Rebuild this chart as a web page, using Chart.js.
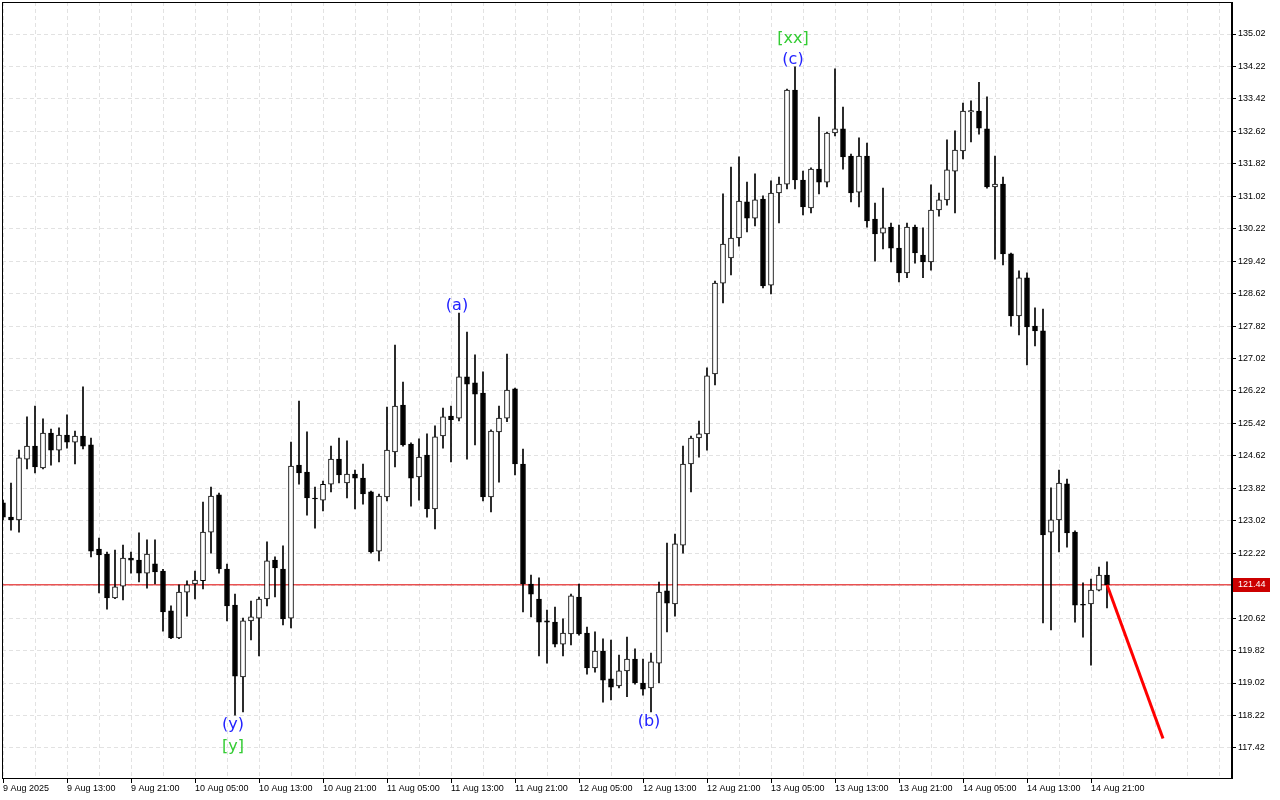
<!DOCTYPE html>
<html>
<head>
<meta charset="utf-8">
<title>Candles</title>
<script src="https://cdn.jsdelivr.net/npm/chart.js@4/dist/chart.umd.min.js"></script>
<style>
  html, body { margin: 0; padding: 0; background: #ffffff; }
  #wrap { width: 1280px; height: 800px; }
</style>
</head>
<body>
<div id="wrap"><canvas id="priceChart" width="1280" height="800"></canvas></div>
<script>
// hourly candles, 9 Aug 05:00 .. 14 Aug 23:00
const opens = [
  123.46, 123.11, 123.04, 124.54, 124.86, 124.32, 125.18, 124.76, 125.13, 124.96,
  125.11, 124.89, 122.32, 122.20, 121.12, 121.41, 122.10, 122.05, 121.73, 121.96,
  121.78, 120.80, 120.13, 121.26, 121.46, 121.54, 122.74, 123.66, 121.83, 120.94,
  119.17, 120.55, 120.62, 121.09, 122.05, 121.83, 120.62, 124.39, 124.22, 123.58,
  123.53, 123.92, 124.54, 123.95, 124.17, 124.07, 123.73, 122.27, 123.61, 124.72,
  125.87, 124.91, 124.10, 124.64, 123.31, 125.11, 125.60, 125.55, 126.57, 126.42,
  126.17, 123.61, 125.21, 125.55, 126.27, 124.42, 121.46, 121.09, 120.55, 120.52,
  119.98, 120.23, 121.14, 120.25, 119.39, 119.81, 119.12, 118.95, 119.32, 119.61,
  119.02, 118.90, 119.51, 121.29, 120.97, 122.42, 124.42, 125.06, 125.16, 126.64,
  128.88, 129.50, 129.99, 130.88, 130.48, 130.95, 128.83, 131.10, 131.32, 133.64,
  131.42, 130.73, 131.69, 131.37, 132.58, 132.68, 132.01, 131.12, 132.01, 130.46,
  130.11, 130.26, 129.74, 129.13, 130.26, 129.57, 129.40, 130.68, 130.93, 131.64,
  132.14, 133.10, 133.12, 132.68, 131.25, 131.32, 129.60, 128.07, 129.01, 127.82,
  127.70, 122.74, 123.04, 123.93, 122.74, 120.96, 120.97, 121.31, 121.68
];
const highs = [
  123.53, 123.95, 124.76, 125.58, 125.85, 125.53, 125.28, 125.31, 125.63, 125.23,
  126.32, 125.06, 122.59, 122.25, 122.30, 122.42, 122.25, 122.72, 122.55, 122.55,
  121.82, 120.92, 121.44, 121.54, 121.78, 123.48, 123.85, 123.70, 121.95, 121.21,
  120.62, 121.04, 121.14, 122.50, 122.13, 122.40, 124.96, 125.97, 125.21, 123.85,
  124.00, 124.86, 125.06, 124.99, 124.27, 124.42, 123.75, 123.68, 125.82, 127.35,
  126.44, 124.94, 125.04, 125.16, 125.36, 125.80, 125.85, 128.14, 127.67, 127.11,
  126.69, 125.26, 125.85, 127.13, 126.29, 124.79, 121.68, 121.61, 120.82, 120.89,
  120.60, 121.21, 121.46, 120.40, 120.28, 120.11, 120.08, 119.71, 120.15, 119.86,
  119.61, 119.76, 121.51, 122.47, 122.69, 124.86, 125.11, 125.48, 126.79, 128.93,
  131.08, 131.74, 131.99, 131.37, 131.57, 131.03, 131.40, 131.49, 133.66, 134.21,
  131.64, 131.72, 132.97, 132.60, 134.16, 133.22, 132.06, 132.46, 132.33, 130.85,
  131.22, 130.36, 130.31, 130.36, 130.31, 130.24, 131.30, 131.10, 132.41, 132.63,
  133.32, 133.37, 133.83, 133.47, 132.01, 131.49, 129.62, 129.18, 129.13, 128.27,
  128.24, 123.83, 124.27, 124.05, 122.77, 121.49, 121.58, 121.88, 122.01
];
const lows = [
  123.04, 122.79, 122.74, 124.30, 124.20, 124.30, 124.39, 124.47, 124.81, 124.42,
  124.79, 122.13, 121.24, 120.84, 121.10, 121.07, 121.73, 121.51, 121.36, 121.46,
  120.30, 120.11, 120.11, 120.67, 121.09, 121.34, 122.22, 121.73, 120.55, 118.23,
  118.31, 120.08, 119.69, 120.92, 121.14, 120.45, 120.38, 123.92, 123.16, 122.84,
  123.26, 123.73, 123.95, 123.58, 123.31, 123.43, 122.22, 122.03, 123.51, 124.35,
  124.86, 123.38, 123.53, 123.11, 122.82, 124.81, 124.47, 125.48, 124.54, 124.89,
  123.51, 123.24, 123.97, 125.46, 124.15, 120.77, 120.65, 119.69, 119.51, 119.91,
  119.69, 119.96, 120.20, 119.24, 119.29, 118.55, 118.60, 118.90, 118.68, 118.99,
  118.72, 118.31, 119.02, 120.28, 120.67, 122.22, 123.73, 124.59, 124.76, 126.37,
  128.39, 129.08, 129.79, 130.14, 130.29, 128.76, 128.61, 130.36, 131.20, 131.20,
  130.56, 130.61, 131.08, 131.25, 132.51, 131.69, 130.88, 130.76, 130.26, 129.42,
  129.72, 129.40, 128.91, 129.01, 129.37, 129.01, 129.20, 130.53, 130.80, 130.61,
  131.94, 132.36, 132.55, 131.22, 129.47, 129.33, 127.82, 127.60, 126.86, 127.33,
  120.50, 120.33, 122.25, 122.37, 120.52, 120.15, 119.46, 121.29, 120.87
];
const closes = [
  123.11, 123.04, 124.57, 124.86, 124.35, 125.18, 124.76, 125.13, 124.96, 125.11,
  124.86, 122.27, 122.18, 121.12, 121.39, 122.10, 122.05, 121.73, 122.20, 121.76,
  120.77, 120.13, 121.26, 121.44, 121.56, 122.74, 123.63, 121.83, 120.92, 119.19,
  120.55, 120.65, 121.09, 122.03, 121.86, 120.60, 124.37, 124.20, 123.58, 123.56,
  123.92, 124.54, 124.15, 124.17, 124.07, 123.68, 122.25, 123.63, 124.76, 125.85,
  124.89, 124.07, 124.59, 123.31, 125.09, 125.58, 125.51, 126.57, 126.39, 126.14,
  123.61, 125.23, 125.55, 126.24, 124.42, 121.46, 121.21, 120.52, 120.52, 119.98,
  120.25, 121.17, 120.23, 119.39, 119.81, 119.09, 118.92, 119.32, 119.61, 119.02,
  118.87, 119.54, 121.26, 120.99, 122.45, 124.42, 125.06, 125.16, 126.59, 128.88,
  129.84, 129.99, 130.90, 130.48, 130.93, 128.81, 131.10, 131.32, 133.64, 131.42,
  130.76, 131.69, 131.37, 132.58, 132.68, 131.99, 131.10, 132.01, 130.41, 130.09,
  130.24, 129.74, 129.13, 130.26, 129.62, 129.40, 130.68, 130.93, 131.67, 132.16,
  133.12, 133.13, 132.70, 131.25, 131.32, 129.60, 128.07, 129.01, 127.80, 127.70,
  122.67, 123.04, 123.95, 122.72, 120.94, 120.94, 121.31, 121.68, 121.44
];

const timeLabels = [
  '9 Aug 2025', '9 Aug 13:00', '9 Aug 21:00', '10 Aug 05:00', '10 Aug 13:00', '10 Aug 21:00',
  '11 Aug 05:00', '11 Aug 13:00', '11 Aug 21:00', '12 Aug 05:00', '12 Aug 13:00', '12 Aug 21:00',
  '13 Aug 05:00', '13 Aug 13:00', '13 Aug 21:00', '14 Aug 05:00', '14 Aug 13:00', '14 Aug 21:00'
];
const priceTicks = [
  117.42, 118.22, 119.02, 119.82, 120.62, 121.42, 122.22, 123.02, 123.82, 124.62, 125.42, 126.22,
  127.02, 127.82, 128.62, 129.42, 130.22, 131.02, 131.82, 132.62, 133.42, 134.22, 135.02
];
const lastPrice = 121.44;
const forecastBars = [138, 145];
const forecastPrices = [121.44, 117.65];

// wave marks: text, bar, anchored on 'high' or 'low', row (0 = next to candle), colour
const waveText = ['(a)', '(b)', '(c)', '[xx]', '(y)', '[y]'];
const waveBar = [57, 81, 99, 99, 29, 29];
const waveSide = ['high', 'low', 'high', 'high', 'low', 'low'];
const waveRow = [0, 0, 0, 1, 0, 1];
const waveColor = ['#2222ff', '#2222ff', '#2222ff', '#33cc33', '#2222ff', '#33cc33'];

const fontName = "'Liberation Sans', Arial, sans-serif";

const bodies = opens.map((o, i) => ({ x: i, y: [o, closes[i]] }));
const wicks = highs.map((h, i) => ({ x: i, y: [lows[i], h] }));
const bodyColors = opens.map((o, i) => closes[i] > o + 0.02 ? '#ffffff' : '#000000');

function noPadding(scale) {
  scale.paddingLeft = 0;
  scale.paddingRight = 0;
  scale.paddingTop = 0;
  scale.paddingBottom = 0;
}

// frame around the plot area + price tag + wave labels
const decorPlugin = {
  id: 'decor',
  afterDraw(chart) {
    const ctx = chart.ctx;
    const a = chart.chartArea;
    const xs = chart.scales.x, ys = chart.scales.y;
    ctx.save();
    ctx.strokeStyle = '#000000';
    ctx.lineWidth = 1;
    ctx.strokeRect(a.left + 0.5, a.top + 0.5, a.right - a.left - 1, a.bottom - a.top);
    ctx.fillStyle = '#000000';
    ctx.fillRect(a.right - 1, a.top, 2, a.bottom - a.top + 1);

    // current price tag
    const py = Math.round(ys.getPixelForValue(lastPrice));
    ctx.fillStyle = '#cc0000';
    ctx.fillRect(a.right + 1, py - 7, 37, 14);
    ctx.fillStyle = '#ffffff';
    ctx.font = '9px ' + fontName;
    ctx.textAlign = 'left';
    ctx.textBaseline = 'middle';
    ctx.fillText(lastPrice.toFixed(2), a.right + 6, py);

    // wave labels
    ctx.font = '16px ' + "'DejaVu Sans', sans-serif";
    ctx.textAlign = 'center';
    waveText.forEach((t, k) => {
      const b = waveBar[k];
      const px = xs.getPixelForValue(b) - 2;
      let y;
      if (waveSide[k] === 'high') {
        y = ys.getPixelForValue(highs[b]) - 7 - waveRow[k] * 21;
      } else {
        y = ys.getPixelForValue(lows[b]) + 10 + waveRow[k] * 22;
      }
      ctx.fillStyle = waveColor[k];
      ctx.fillText(t, px, y);
    });
    ctx.restore();
  }
};

const ctx = document.getElementById('priceChart').getContext('2d');
const priceChart = new Chart(ctx, {
  type: 'bar',
  data: {
    datasets: [
      {
        type: 'line',
        data: [{ x: -1, y: lastPrice }, { x: 160, y: lastPrice }],
        borderColor: '#e00000',
        borderWidth: 1,
        pointRadius: 0,
        order: 5
      },
      {
        type: 'line',
        data: forecastBars.map((b, i) => ({ x: b, y: forecastPrices[i] })),
        borderColor: '#ff0000',
        borderWidth: 3,
        pointRadius: 0,
        order: 0
      },
      {
        label: 'body',
        data: bodies,
        backgroundColor: bodyColors,
        borderColor: '#000000',
        borderWidth: 1,
        borderSkipped: false,
        barThickness: 5,
        grouped: false,
        order: 1
      },
      {
        label: 'wick',
        data: wicks,
        backgroundColor: '#000000',
        borderWidth: 0,
        barThickness: 1,
        grouped: false,
        order: 2
      }
    ]
  },
  options: {
    responsive: false,
    animation: false,
    layout: { padding: { left: 2, top: 2, right: 0, bottom: 0 } },
    plugins: {
      legend: { display: false },
      tooltip: { enabled: false }
    },
    scales: {
      x: {
        type: 'linear',
        offset: false,
        min: -0.125,
        max: 153.625,
        afterFit: function(scale) { scale.height = 22; noPadding(scale); },
        afterBuildTicks: function(scale) {
          const t = [];
          for (let v = 0; v <= 152; v += 4) t.push({ value: v });
          scale.ticks = t;
        },
        ticks: {
          autoSkip: false,
          maxRotation: 0,
          align: 'start',
          padding: 0,
          color: '#000000',
          font: { family: fontName, size: 9 },
          callback: function(value) {
            if (value % 8 !== 0) return '';
            return timeLabels[value / 8] || '';
          }
        },
        grid: {
          offset: false,
          color: '#e2e2e2',
          tickLength: 5,
          tickColor: function(c) {
            const v = c.tick ? c.tick.value : 0;
            return (v % 8 === 0 && v / 8 < timeLabels.length) ? '#000000' : 'rgba(0,0,0,0)';
          }
        },
        border: { display: false, dash: [4, 3] }
      },
      y: {
        position: 'right',
        min: 116.678,
        max: 135.809,
        afterFit: function(scale) { scale.width = 48; noPadding(scale); },
        afterBuildTicks: function(scale) {
          scale.ticks = priceTicks.map(v => ({ value: v }));
        },
        ticks: {
          autoSkip: false,
          padding: 2,
          color: '#000000',
          font: { family: fontName, size: 9 },
          callback: function(value) { return value.toFixed(2); }
        },
        grid: {
          color: '#e2e2e2',
          tickLength: 4,
          tickColor: '#000000'
        },
        border: { display: false, dash: [4, 3] }
      }
    }
  },
  plugins: [decorPlugin]
});
</script>
</body>
</html>
